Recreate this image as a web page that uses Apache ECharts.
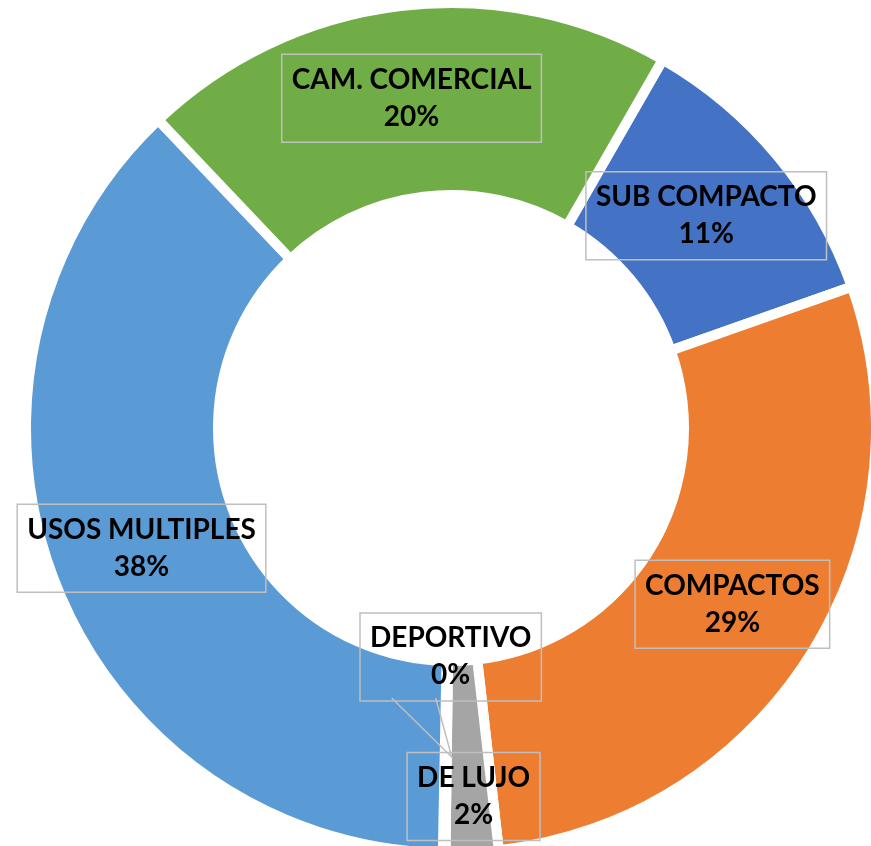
<!DOCTYPE html>
<html>
<head>
<meta charset="utf-8">
<title>Tipos de vehiculo</title>
<script src="https://cdn.jsdelivr.net/npm/echarts@6/dist/echarts.min.js"></script>
<style>
html, body { margin: 0; padding: 0; background: #fff; }
#myChart { width: 871px; height: 846px; }
</style>
</head>
<body>
<div id="myChart"></div>
<script>
// datos (porcentaje de cada tipo)
var categorias = ['SUB COMPACTO', 'COMPACTOS', 'DE LUJO', 'DEPORTIVO', 'USOS MULTIPLES', 'CAM. COMERCIAL'];
var valores = [11.3, 28.6, 2.0, 0.1, 37.6, 20.4];
var colores = ['#4472C4', '#ED7D31', '#A5A5A5', '#FFC000', '#5B9BD5', '#70AD47'];

var datos = categorias.map(function (c, i) {
    return { name: c, value: valores[i], itemStyle: { color: colores[i] } };
});

var option = {
    animation: false,
    series: [{
        type: 'pie',
        center: [451, 428],
        radius: [233, 425],
        startAngle: 60.1,
        clockwise: true,
        avoidLabelOverlap: false,
        silent: true,
        itemStyle: {
            borderColor: '#fff',
            borderWidth: 10,
            borderJoin: 'miter'
        },
        label: {
            show: true,
            position: 'inside',
            formatter: function (p) {
                return p.name + '\n' + Math.round(p.value) + '%';
            },
            color: '#000',
            fontFamily: 'Lato',
            fontWeight: 'bold',
            fontSize: 28,
            lineHeight: 37,
            align: 'center',
            borderColor: '#BFBFBF',
            borderWidth: 1.5,
            padding: [7, 10]
        },
        labelLine: { show: false },
        labelLayout: function (p) {
            // DE LUJO y DEPORTIVO movidas a mano como en el original
            if (p.dataIndex === 2) {
                return { dx: 6, dy: 37 };
            }
            if (p.dataIndex === 3) {
                return { dx: 5, dy: -103 };
            }
        },
        data: datos
    }]
};

var myChart = echarts.init(document.getElementById('myChart'));
myChart.setOption(option);

// flecha (callout) de DEPORTIVO hacia su sector
var lay = myChart.getModel().getSeriesByIndex(0).getData().getItemLayout(3);
var mid = (lay.startAngle + lay.endAngle) / 2;
var rm = (lay.r + lay.r0) / 2;
var ax = lay.cx + rm * Math.cos(mid);
var ay = lay.cy + rm * Math.sin(mid);
var flecha = new echarts.graphic.Polyline({
    z: 100,
    silent: true,
    shape: { points: [[ax - 54, ay - 59], [ax + 6, ay], [ax - 10, ay - 59]] },
    style: { stroke: '#BFBFBF', lineWidth: 1.5, fill: null }
});
myChart.getZr().add(flecha);
</script>
</body>
</html>
